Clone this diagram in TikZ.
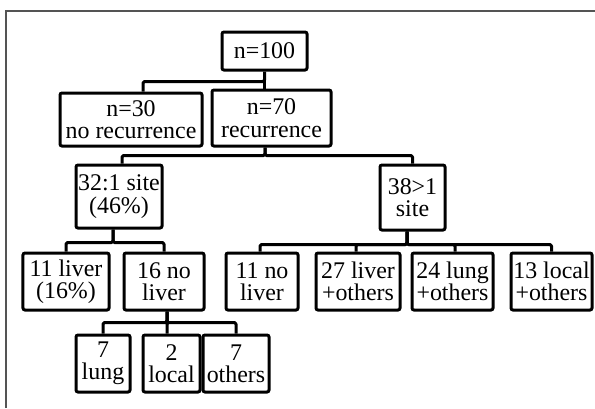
\documentclass[tikz,border=0pt]{standalone}
\usepackage{fontspec}
\setmainfont{Liberation Serif}
\usetikzlibrary{positioning,calc}

\begin{document}
\begin{tikzpicture}
[x=1bp,y=-1bp,
cbox/.style={draw=black,line width=3bp,rounded corners=2bp,inner sep=0pt,
  align=center,font=\fontsize{24}{22.5}\selectfont},
link/.style={line width=3bp,rounded corners=1.5bp,line join=round},
frame/.style={draw=black!67,line width=1.2bp}]
\useasboundingbox (0,0) rectangle (595,408);
%%
% frame
%%
\draw[frame] (6,408) -- (6,11) -- (595,11);
%%
% boxes
%%
\node[cbox,minimum width=85bp,minimum height=38bp] (root) at (264.5,51) {n=100};
\node[cbox,minimum width=142bp,minimum height=53bp] (n30) at (131,119.5) {n=30\\no recurrence};
\node[cbox,minimum width=119bp,minimum height=56bp] (n70) at (271.5,118) {n=70\\recurrence};
%
\node[cbox,minimum width=86bp,minimum height=63bp] (one) at (119,196.5) {32:1 site\\(46\%)};
\node[cbox,minimum width=65bp,minimum height=65bp] (more) at (412.5,197.5) {38>1\\site};
%
\node[cbox,minimum width=86bp,minimum height=57bp] (liver) at (66,281.5) {11 liver\\(16\%)};
\node[cbox,minimum width=80bp,minimum height=57bp] (noliver) at (164,281.5) {16 no\\liver};
\node[cbox,minimum width=72bp,minimum height=57bp] (noliverb) at (262,281.5) {11 no\\liver};
\node[cbox,minimum width=84bp,minimum height=57bp] (livero) at (358,281.5) {27 liver\\+others};
\node[cbox,minimum width=81bp,minimum height=57bp] (lungo) at (452.5,281.5) {24 lung\\+others};
\node[cbox,minimum width=81bp,minimum height=57bp] (localo) at (551.5,281.5) {13 local\\+others};
%
\node[cbox,minimum width=54bp,minimum height=57bp] (lung) at (103,363.5) {7\\lung};
\node[cbox,minimum width=57bp,minimum height=57bp] (local) at (171.5,363.5) {2\\local};
\node[cbox,minimum width=66bp,minimum height=57bp] (others) at (236,363.5) {7\\others};
%%
% links
%%
\draw[link] (root.south) -- ++(0,10) -| ([xshift=12bp]n30.north);
\draw[link] (root.south) -- (root.south |- n70.north);
%
\draw[link] ([xshift=-6.5bp]n70.south) -- ++(0,8) -| ([xshift=3bp]one.north);
\draw[link] ([xshift=-6.5bp]n70.south) -- ++(0,8) -| (more.north);
%
\draw[link] ([xshift=-6bp]one.south) -- ++(0,13) -| (liver.north);
\draw[link] ([xshift=-6bp]one.south) -- ++(0,13) -| (noliver.north);
%
\draw[link] ([xshift=-5.5bp]more.south) -- ++(0,13) -| ([xshift=-2bp]noliverb.north);
\draw[link] ([xshift=-5.5bp]more.south) -- ++(0,13) -| ([xshift=-2bp]livero.north);
\draw[link] ([xshift=-5.5bp]more.south) -- ++(0,13) -| ([xshift=2.5bp]lungo.north);
\draw[link] ([xshift=-5.5bp]more.south) -- ++(0,13) -| (localo.north);
%
\draw[link] ([xshift=3bp]noliver.south) -- ++(0,11) -| (lung.north);
\draw[link] ([xshift=3bp]noliver.south) -- ++(0,11) -| ([xshift=-4.5bp]local.north);
\draw[link] ([xshift=3bp]noliver.south) -- ++(0,11) -| (others.north);
\end{tikzpicture}
\end{document}
